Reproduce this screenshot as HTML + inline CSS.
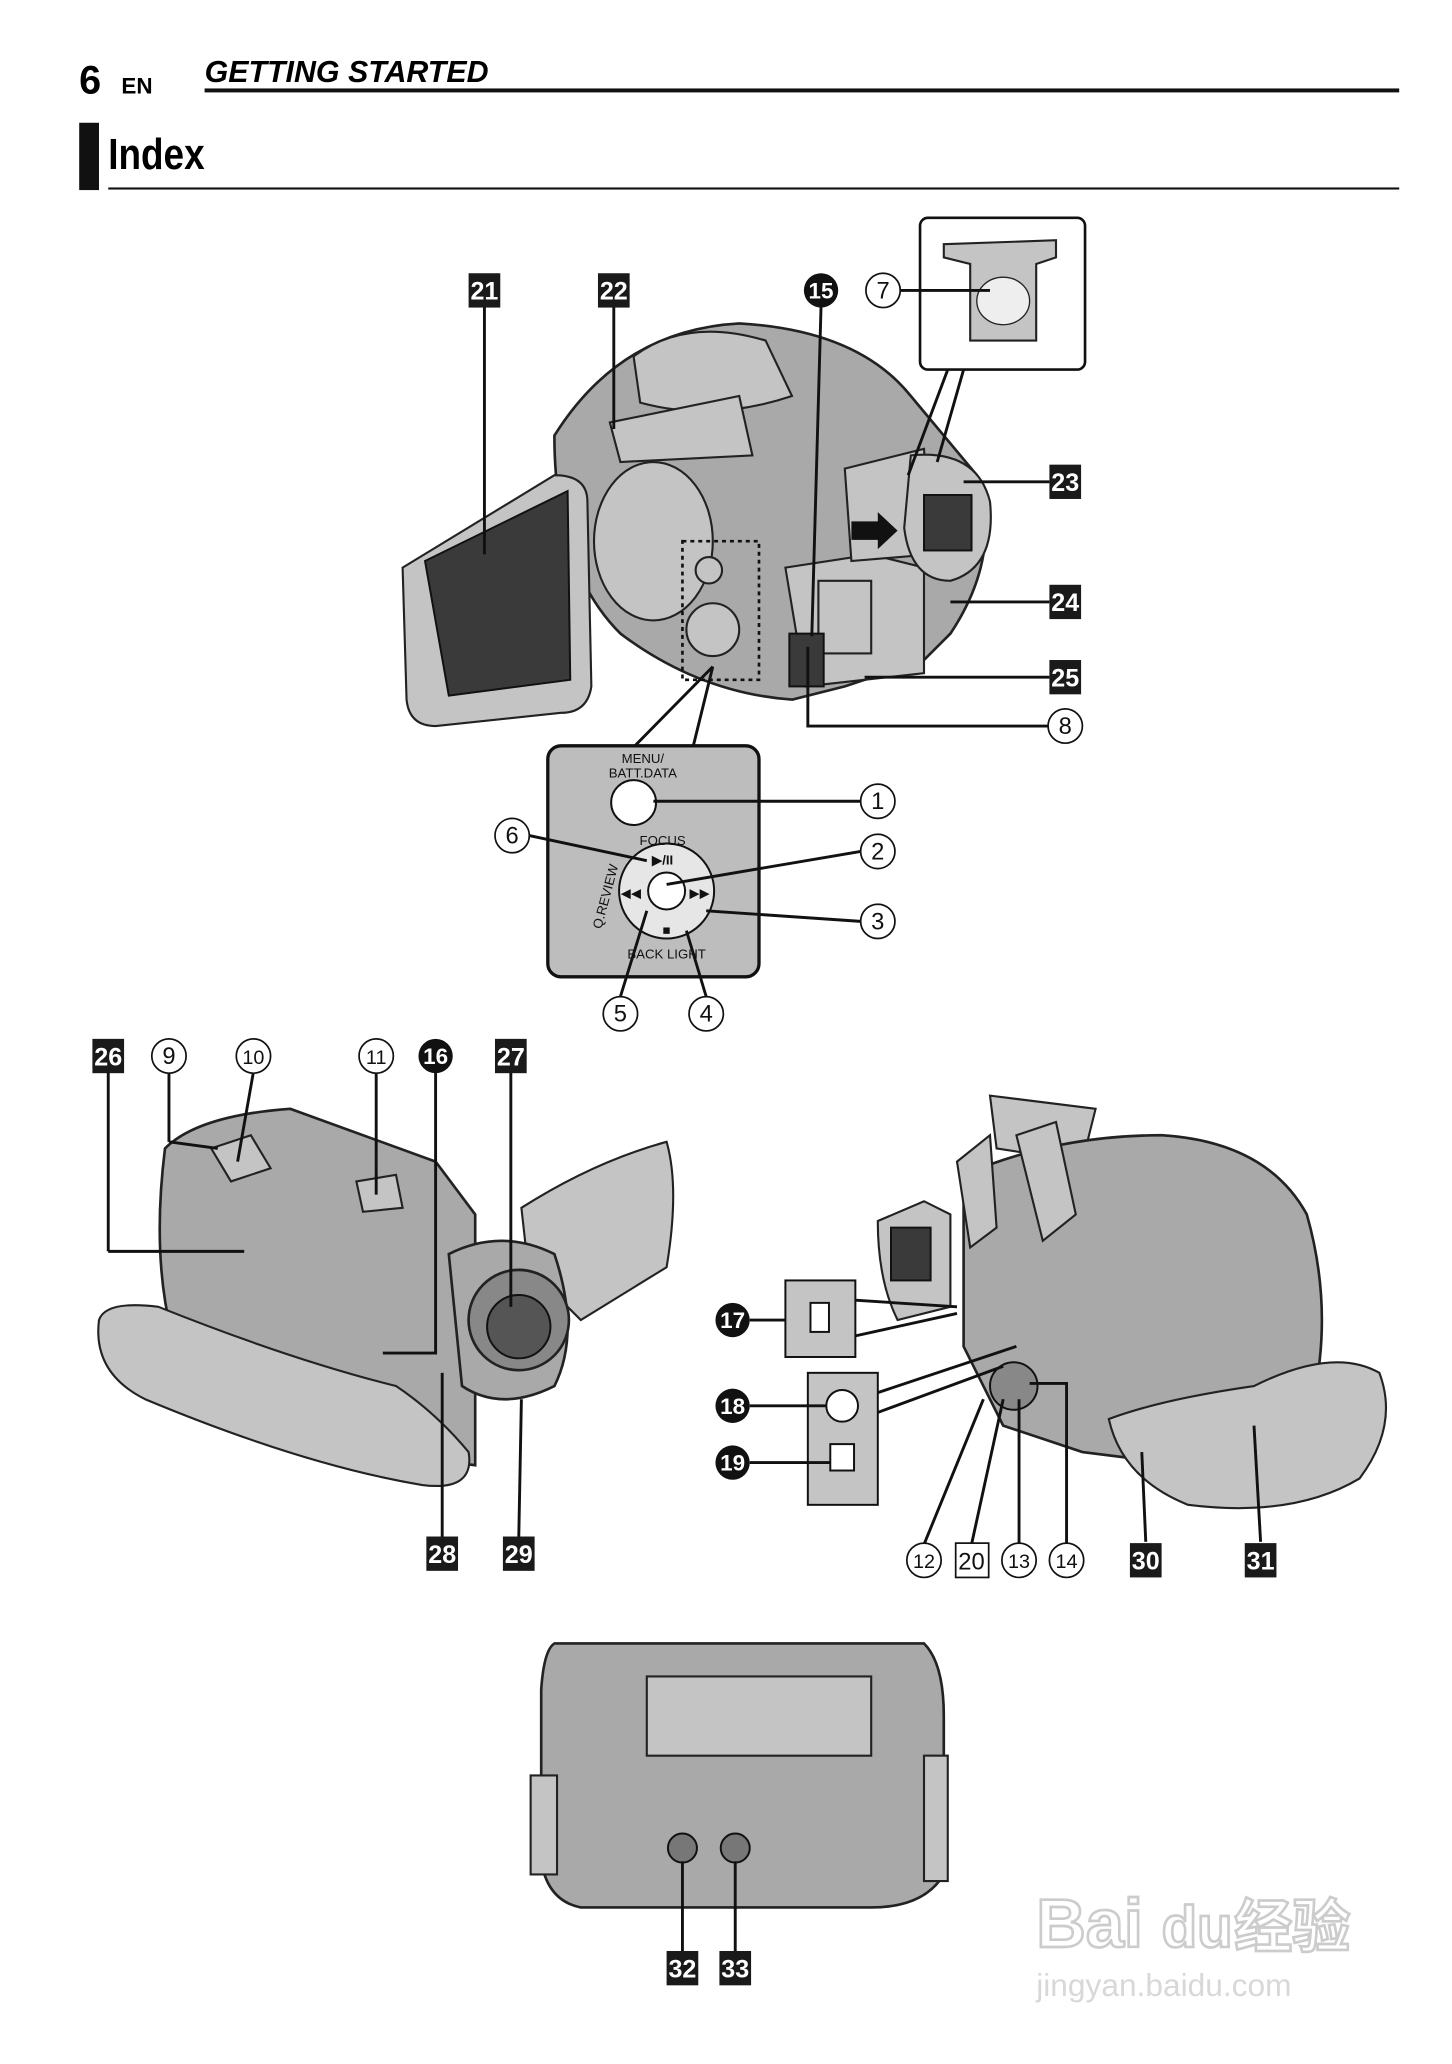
<!DOCTYPE html>
<html><head><meta charset="utf-8"><style>
html,body{margin:0;padding:0;background:#fff;width:1452px;height:2064px;overflow:hidden}
svg{display:block}
.sq{fill:#1a1a1a}
.sqt{fill:#fff;font:bold 19px "Liberation Sans",sans-serif;text-anchor:middle}
.ci{fill:#fff;stroke:#111;stroke-width:1.3}
.cit{fill:#111;font:18px "Liberation Sans",sans-serif;text-anchor:middle}
.bc{fill:#111}
.bct{fill:#fff;font:bold 17px "Liberation Sans",sans-serif;text-anchor:middle}
.ln{stroke:#111;stroke-width:2.2;fill:none}
.body{fill:#a9a9a9;stroke:#222;stroke-width:2}
.lt{fill:#c4c4c4;stroke:#222;stroke-width:1.6}
.dk{fill:#3a3a3a;stroke:#111;stroke-width:1.5}
.sm{font:10px "Liberation Sans",sans-serif;fill:#111;text-anchor:middle}
</style></head><body>
<svg width="1452" height="2064" viewBox="0 0 1100 1563.6" preserveAspectRatio="none">
<!-- header -->
<text x="60" y="71" style="font:bold 30px 'Liberation Sans',sans-serif">6</text>
<text x="92" y="71" style="font:bold 17px 'Liberation Sans',sans-serif">EN</text>
<text x="155" y="62" style="font:italic bold 23px 'Liberation Sans',sans-serif" transform="scale(1,1)">GETTING STARTED</text>
<rect x="155" y="67" width="905" height="3" fill="#111"/>
<rect x="60" y="93" width="15" height="51" fill="#111"/>
<text x="82" y="128" style="font:bold 33px 'Liberation Sans Narrow','Liberation Sans',sans-serif" textLength="73" lengthAdjust="spacingAndGlyphs">Index</text>
<rect x="82" y="142" width="978" height="1.6" fill="#111"/>

<!-- TOP CAMERA -->
<path class="body" d="M420 330 Q470 250 560 245 Q650 250 690 300 L740 360 Q760 420 720 480 L700 500 L640 520 L600 530 Q530 525 470 480 Q420 430 420 330Z"/>
<path class="lt" d="M480 270 Q520 240 580 258 L600 300 Q540 320 485 305Z"/>
<path class="lt" d="M462 320 L560 300 L570 345 L470 350Z"/>
<ellipse cx="495" cy="410" rx="45" ry="60" class="lt"/>
<rect x="517" y="410" width="58" height="105" fill="none" stroke="#111" stroke-width="2" stroke-dasharray="3,3"/>
<circle cx="537" cy="432" r="10" class="lt"/>
<circle cx="540" cy="477" r="20" class="lt"/>
<path class="lt" d="M595 430 L660 420 L700 430 L700 510 L610 520 Z"/>
<rect x="620" y="440" width="40" height="55" class="lt"/>
<rect x="598" y="480" width="26" height="40" class="dk"/>
<path class="lt" d="M640 355 L700 340 L705 420 L645 425Z"/>
<path class="lt" d="M690 345 Q740 340 750 380 Q755 430 720 440 Q690 440 685 400Z"/>
<rect x="700" y="375" width="36" height="42" class="dk"/>
<path d="M645 395 L665 395 L665 388 L680 402 L665 416 L665 409 L645 409Z" fill="#111"/>
<!-- LCD -->
<path class="lt" d="M305 430 L420 360 Q445 360 445 380 L448 520 Q445 540 425 540 L330 550 Q310 550 308 530Z"/>
<path class="dk" d="M322 425 L430 372 L432 515 L340 527Z"/>
<!-- inset 7 -->
<rect x="697" y="165" width="125" height="115" rx="6" fill="#fff" stroke="#111" stroke-width="2"/>
<path class="lt" d="M715 185 L800 182 L800 195 L785 200 L785 258 L735 258 L735 200 L715 195Z"/>
<ellipse cx="760" cy="228" rx="20" ry="18" fill="#eee" stroke="#222"/>
<line class="ln" x1="718" y1="280" x2="688" y2="360"/><line class="ln" x1="730" y1="280" x2="710" y2="350"/>
<!-- labels top -->
<line class="ln" x1="367" y1="232" x2="367" y2="420"/>
<line class="ln" x1="465" y1="232" x2="465" y2="325"/>
<line class="ln" x1="622" y1="232" x2="615" y2="482"/>
<line class="ln" x1="682" y1="220" x2="750" y2="220"/>
<line class="ln" x1="730" y1="365" x2="795" y2="365"/>
<line class="ln" x1="720" y1="456" x2="795" y2="456"/>
<line class="ln" x1="655" y1="513" x2="795" y2="513"/>
<path class="ln" d="M612 490 L612 550 L794 550"/>
<rect class="sq" x="355" y="207" width="24" height="26"/><text class="sqt" x="367" y="227">21</text>
<rect class="sq" x="453" y="207" width="24" height="26"/><text class="sqt" x="465" y="227">22</text>
<circle class="bc" cx="622" cy="220" r="13"/><text class="bct" x="622" y="226">15</text>
<circle class="ci" cx="669" cy="220" r="13"/><text class="cit" x="669" y="226">7</text>
<rect class="sq" x="795" y="352" width="24" height="26"/><text class="sqt" x="807" y="372">23</text>
<rect class="sq" x="795" y="443" width="24" height="26"/><text class="sqt" x="807" y="463">24</text>
<rect class="sq" x="795" y="500" width="24" height="26"/><text class="sqt" x="807" y="520">25</text>
<circle class="ci" cx="807" cy="550" r="13"/><text class="cit" x="807" y="556">8</text>
<!-- panel -->
<line class="ln" x1="540" y1="505" x2="480" y2="566"/><line class="ln" x1="540" y1="505" x2="525" y2="566"/>
<rect x="415" y="565" width="160" height="175" rx="10" fill="#bdbdbd" stroke="#111" stroke-width="2.5"/>
<text class="sm" x="487" y="578">MENU/</text><text class="sm" x="487" y="589">BATT.DATA</text>
<circle cx="480" cy="608" r="17" fill="#fff" stroke="#111" stroke-width="1.5"/>
<circle cx="505" cy="675" r="36" fill="#e6e6e6" stroke="#111" stroke-width="1.5"/>
<circle cx="505" cy="675" r="14" fill="#fff" stroke="#111" stroke-width="1.5"/>
<text class="sm" x="502" y="640">FOCUS</text><text class="sm" x="502" y="655" style="font-weight:bold">▶/II</text>
<text class="sm" x="478" y="680">◀◀</text><text class="sm" x="530" y="680">▶▶</text>
<text class="sm" x="505" y="708">■</text><text class="sm" x="505" y="726">BACK LIGHT</text>
<text class="sm" x="462" y="680" transform="rotate(-75 462 680)">Q.REVIEW</text>
<line class="ln" x1="495" y1="607" x2="652" y2="607"/>
<line class="ln" x1="505" y1="670" x2="652" y2="645"/>
<line class="ln" x1="535" y1="690" x2="652" y2="698"/>
<line class="ln" x1="520" y1="705" x2="535" y2="755"/>
<line class="ln" x1="490" y1="690" x2="470" y2="755"/>
<line class="ln" x1="401" y1="633" x2="490" y2="652"/>
<circle class="ci" cx="665" cy="607" r="13"/><text class="cit" x="665" y="613">1</text>
<circle class="ci" cx="665" cy="645" r="13"/><text class="cit" x="665" y="651">2</text>
<circle class="ci" cx="665" cy="698" r="13"/><text class="cit" x="665" y="704">3</text>
<circle class="ci" cx="535" cy="768" r="13"/><text class="cit" x="535" y="774">4</text>
<circle class="ci" cx="470" cy="768" r="13"/><text class="cit" x="470" y="774">5</text>
<circle class="ci" cx="388" cy="633" r="13"/><text class="cit" x="388" y="639">6</text>

<!-- BOTTOM LEFT CAMERA -->
<path class="body" d="M125 870 Q150 845 220 840 L330 880 L360 920 L360 1110 L280 1100 L130 1010 Q115 950 125 870Z"/>
<path class="lt" d="M395 915 Q450 880 505 865 Q515 900 505 960 L440 1000 L400 960Z"/>
<path class="body" d="M340 950 Q380 930 420 950 Q440 1010 420 1050 Q380 1070 350 1050Z"/>
<circle cx="393" cy="1000" r="38" fill="#888" stroke="#222" stroke-width="2"/>
<circle cx="393" cy="1005" r="24" fill="#555" stroke="#111" stroke-width="1.5"/>
<path class="lt" d="M160 870 L190 860 L205 885 L175 895Z"/>
<path class="lt" d="M270 895 L300 890 L305 915 L275 918Z"/>
<path class="lt" d="M75 1000 Q80 985 120 990 Q220 1030 300 1050 Q330 1070 355 1100 Q360 1130 320 1125 Q230 1110 110 1060 Q70 1040 75 1000Z"/>
<line class="ln" x1="82" y1="812" x2="82" y2="948"/><line class="ln" x1="82" y1="948" x2="185" y2="948"/>
<line class="ln" x1="128" y1="812" x2="128" y2="865"/><line class="ln" x1="128" y1="865" x2="165" y2="870"/>
<line class="ln" x1="192" y1="812" x2="180" y2="880"/>
<line class="ln" x1="285" y1="812" x2="285" y2="905"/>
<path class="ln" d="M330 812 L330 1025 L290 1025"/>
<line class="ln" x1="387" y1="812" x2="387" y2="990"/>
<line class="ln" x1="335" y1="1165" x2="335" y2="1040"/>
<line class="ln" x1="393" y1="1165" x2="395" y2="1060"/>
<rect class="sq" x="70" y="787" width="24" height="26"/><text class="sqt" x="82" y="807">26</text>
<circle class="ci" cx="128" cy="800" r="13"/><text class="cit" x="128" y="806">9</text>
<circle class="ci" cx="192" cy="800" r="13"/><text class="cit" x="192" y="806" style="font-size:15px">10</text>
<circle class="ci" cx="285" cy="800" r="13"/><text class="cit" x="285" y="806" style="font-size:15px">11</text>
<circle class="bc" cx="330" cy="800" r="13"/><text class="bct" x="330" y="806">16</text>
<rect class="sq" x="375" y="787" width="24" height="26"/><text class="sqt" x="387" y="807">27</text>
<rect class="sq" x="323" y="1164" width="24" height="26"/><text class="sqt" x="335" y="1184">28</text>
<rect class="sq" x="381" y="1164" width="24" height="26"/><text class="sqt" x="393" y="1184">29</text>

<!-- BOTTOM RIGHT CAMERA -->
<path class="lt" d="M750 830 L830 840 L820 880 L755 870Z"/>
<path class="body" d="M730 890 Q800 860 880 860 Q960 865 990 920 Q1010 990 995 1060 L900 1110 L820 1100 L760 1080 L730 1020Z"/>
<path class="lt" d="M665 925 L700 910 L720 920 L720 990 L680 1000 Q665 970 665 925Z"/>
<rect x="675" y="930" width="30" height="40" class="dk"/>
<path class="lt" d="M725 880 L750 860 L755 930 L735 945Z"/>
<path class="lt" d="M770 860 L800 850 L815 920 L790 940Z"/>
<circle cx="768" cy="1050" r="18" fill="#888" stroke="#111" stroke-width="1.5"/>
<path class="lt" d="M840 1075 Q880 1060 950 1050 Q1010 1020 1045 1040 Q1060 1080 1030 1120 Q980 1150 900 1140 Q850 1120 840 1075Z"/>
<rect x="595" y="970" width="53" height="58" fill="#c4c4c4" stroke="#111" stroke-width="1.5"/>
<rect x="614" y="987" width="14" height="22" fill="#fff" stroke="#111" stroke-width="1.5"/>
<rect x="612" y="1040" width="53" height="100" fill="#c4c4c4" stroke="#111" stroke-width="1.5"/>
<circle cx="638" cy="1065" r="12" fill="#fff" stroke="#111" stroke-width="1.5"/>
<rect x="629" y="1094" width="18" height="20" fill="#fff" stroke="#111" stroke-width="1.5"/>
<line class="ln" x1="648" y1="985" x2="725" y2="990"/><line class="ln" x1="648" y1="1012" x2="725" y2="995"/>
<line class="ln" x1="665" y1="1055" x2="770" y2="1020"/><line class="ln" x1="665" y1="1070" x2="760" y2="1035"/>
<line class="ln" x1="568" y1="1000" x2="595" y2="1000"/>
<line class="ln" x1="568" y1="1065" x2="626" y2="1065"/>
<line class="ln" x1="568" y1="1108" x2="629" y2="1108"/>
<line class="ln" x1="700" y1="1170" x2="745" y2="1060"/>
<line class="ln" x1="736" y1="1170" x2="760" y2="1060"/>
<line class="ln" x1="772" y1="1170" x2="772" y2="1060"/>
<path class="ln" d="M808 1170 L808 1048 L780 1048"/>
<line class="ln" x1="868" y1="1168" x2="865" y2="1100"/>
<line class="ln" x1="955" y1="1168" x2="950" y2="1080"/>
<circle class="bc" cx="555" cy="1000" r="13"/><text class="bct" x="555" y="1006">17</text>
<circle class="bc" cx="555" cy="1065" r="13"/><text class="bct" x="555" y="1071">18</text>
<circle class="bc" cx="555" cy="1108" r="13"/><text class="bct" x="555" y="1114">19</text>
<circle class="ci" cx="700" cy="1182" r="13"/><text class="cit" x="700" y="1188" style="font-size:15px">12</text>
<rect x="724" y="1169" width="25" height="26" fill="#fff" stroke="#111" stroke-width="1.3"/><text class="cit" x="736" y="1189">20</text>
<circle class="ci" cx="772" cy="1182" r="13"/><text class="cit" x="772" y="1188" style="font-size:15px">13</text>
<circle class="ci" cx="808" cy="1182" r="13"/><text class="cit" x="808" y="1188" style="font-size:15px">14</text>
<rect class="sq" x="856" y="1169" width="24" height="26"/><text class="sqt" x="868" y="1189">30</text>
<rect class="sq" x="943" y="1169" width="24" height="26"/><text class="sqt" x="955" y="1189">31</text>

<!-- BOTTOM CAMERA -->
<path class="body" d="M420 1245 L700 1245 Q715 1260 715 1300 L715 1420 Q700 1445 660 1445 L440 1445 Q415 1440 410 1410 L410 1280 Q412 1250 420 1245Z"/>
<path class="lt" d="M490 1270 L660 1270 L660 1330 L490 1330Z"/>
<rect x="402" y="1345" width="20" height="75" class="lt"/>
<rect x="700" y="1330" width="18" height="95" class="lt"/>
<circle cx="517" cy="1400" r="11" fill="#777" stroke="#111" stroke-width="1.5"/>
<circle cx="557" cy="1400" r="11" fill="#777" stroke="#111" stroke-width="1.5"/>
<line class="ln" x1="517" y1="1410" x2="517" y2="1478"/><line class="ln" x1="557" y1="1410" x2="557" y2="1478"/>
<rect class="sq" x="505" y="1478" width="24" height="26"/><text class="sqt" x="517" y="1498">32</text>
<rect class="sq" x="545" y="1478" width="24" height="26"/><text class="sqt" x="557" y="1498">33</text>

<!-- watermark -->
<text x="785" y="1475" style="font:bold 52px 'Liberation Sans',sans-serif;fill:#fff;stroke:#ccc;stroke-width:2">Bai</text>
<text x="880" y="1475" style="font:bold 44px 'Liberation Sans',sans-serif;fill:#fff;stroke:#ccc;stroke-width:2">du</text>
<text x="935" y="1475" style="font:bold 44px 'Liberation Sans','Noto Sans CJK SC',sans-serif;fill:#fff;stroke:#ccc;stroke-width:2">经验</text>
<text x="785" y="1512" style="font:24px 'Liberation Sans',sans-serif;fill:#d8d8d8">jingyan.baidu.com</text>
</svg>
</body></html>
